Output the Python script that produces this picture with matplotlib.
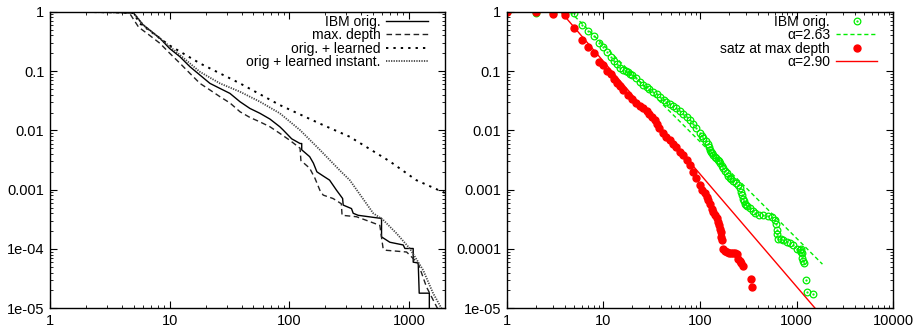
import matplotlib
matplotlib.use('Agg')
import matplotlib.pyplot as plt
from matplotlib.lines import Line2D
from matplotlib.legend_handler import HandlerTuple
from matplotlib.ticker import FixedLocator, LogLocator, NullFormatter
import numpy as np

plt.rcParams['font.family'] = ['Liberation Sans', 'DejaVu Sans']
plt.rcParams['font.size'] = 10

# left panel: cumulative distributions
ibm_x = [1, 2, 3, 4, 5, 6, 8.3, 10, 12.2, 14.8, 17.9, 21.7, 26.3, 31.9, 38.7, 46.9, 56.8, 68.9, 83.3,
         89, 104.7, 123, 127, 127, 148, 159, 170, 192, 217, 248, 279, 282, 331, 342, 376, 571, 590,
         590, 692, 895, 925, 1085, 1085, 1195, 1218, 1480, 1480]
ibm_y = [1.0, 0.99, 0.98, 0.97, 0.95, 0.6, 0.356, 0.24, 0.174, 0.118, 0.0857, 0.062, 0.051, 0.042,
         0.0304, 0.0234, 0.0194, 0.0155, 0.0115, 0.0101, 0.0072, 0.006, 0.006, 0.0047, 0.0036, 0.0028,
         0.002, 0.0017, 0.00145, 0.00098, 0.00071, 0.00055, 0.00048, 0.0004, 0.00037, 0.00033, 0.00033,
         0.00016, 0.00013, 0.000117, 0.000102, 0.000102, 0.00006, 0.000058, 0.000018, 0.000018, 0.000005]

depth_x = [1, 2, 3, 4, 4.6, 5.5, 6.8, 8.3, 10, 12.2, 14.8, 17.9, 21.7, 26.3, 31.9, 38.7, 46.9, 56.8,
           68.9, 83.3, 101, 123, 125, 148, 164, 180, 192, 232, 272, 276, 364, 470, 571, 608, 648, 955,
           1195, 1400, 1700, 1900]
depth_y = [1.0, 0.99, 0.98, 0.97, 0.96, 0.55, 0.40, 0.293, 0.2, 0.135, 0.091, 0.062, 0.048, 0.037,
           0.029, 0.0206, 0.0165, 0.0139, 0.0115, 0.0089, 0.0068, 0.005, 0.0031, 0.0023, 0.00155,
           0.00098, 0.00081, 0.00071, 0.00058, 0.00037, 0.00035, 0.00029, 0.00025, 0.000102, 0.000095,
           0.000089, 0.000057, 0.000023, 0.0000107, 0.000007]

learned_x = [1, 2, 3, 4, 5, 5.6, 8.3, 10, 18, 38.7, 83.3, 180, 320, 692, 1150, 2000]
learned_y = [1.0, 0.99, 0.98, 0.97, 0.95, 0.64, 0.356, 0.27, 0.134, 0.062, 0.0267, 0.013, 0.0078,
             0.003, 0.00145, 0.00088]

instant_x = [1, 2, 3, 4, 5, 6, 8.3, 10, 12.2, 17.9, 26.3, 38.7, 56.8, 83.3, 123, 180, 265, 320, 503,
             608, 788, 1016, 1314, 1590, 1870]
instant_y = [1.0, 0.99, 0.98, 0.97, 0.95, 0.6, 0.356, 0.26, 0.186, 0.097, 0.062, 0.0448, 0.0304,
             0.0194, 0.0101, 0.0047, 0.0021, 0.00145, 0.0004, 0.00031, 0.000183, 0.000102, 0.000044,
             0.000018, 0.00001]

# right panel: IBM orig. and satz at max depth
green_x = [1, 2, 3, 4, 5, 6, 7, 8, 9, 10, 11, 12, 13, 14, 15, 16, 17, 18, 19, 20, 22, 24, 26, 28, 30,
           33, 36, 39, 42, 45, 49, 53, 57, 62, 67, 73, 79, 85, 92, 100, 104, 108, 115, 122, 124, 126,
           130, 134, 138, 143, 148, 152, 157, 161, 168, 175, 182, 189, 197, 205, 212, 220, 235, 249,
           258, 268, 274, 280, 285, 290, 300, 310, 330, 350, 370, 410, 450, 500, 550, 595, 608, 620,
           633, 645, 690, 730, 790, 850, 920, 1000, 1080, 1100, 1115, 1130, 1150, 1170, 1200, 1250,
           1270, 1480]
green_y = [1.0, 0.97, 0.97, 0.97, 0.94, 0.6, 0.47, 0.39, 0.30, 0.25, 0.21, 0.17, 0.149, 0.13, 0.112,
           0.104, 0.1, 0.095, 0.09, 0.086, 0.076, 0.066, 0.059, 0.053, 0.049, 0.045, 0.041, 0.037,
           0.033, 0.030, 0.028, 0.026, 0.0235, 0.0215, 0.019, 0.017, 0.015, 0.013, 0.0108, 0.0089,
           0.008, 0.0073, 0.0066, 0.006, 0.0053, 0.0047, 0.0044, 0.0041, 0.0038, 0.0036, 0.0034,
           0.0032, 0.003, 0.0028, 0.0025, 0.0023, 0.0021, 0.0019, 0.0017, 0.0016, 0.0015, 0.0014,
           0.0013, 0.0012, 0.00105, 0.00092, 0.0008, 0.0007, 0.00064, 0.00058, 0.00056, 0.00054,
           0.0005, 0.00044, 0.0004, 0.00038, 0.00037, 0.00036, 0.00035, 0.00031, 0.00026, 0.00021,
           0.00018, 0.00015, 0.000145, 0.00014, 0.000133, 0.000127, 0.000115, 0.0001, 0.000095,
           0.0001, 0.00009, 0.000085, 0.00007, 0.000062, 0.000058, 0.00003, 0.0000186, 0.0000175]

red_x = [1, 2, 3, 4, 5, 6, 7, 8, 9, 10, 11, 12, 13, 14, 15, 16, 18, 20, 22, 24, 26, 28, 30, 32, 34,
         36, 38, 41, 45, 49, 53, 57, 62, 67, 73, 79, 85, 92, 100, 106, 112, 117, 122, 127, 132, 138,
         143, 149, 155, 158, 161, 164, 167, 171, 175, 182, 189, 200, 210, 220, 230, 240, 249, 260,
         268, 280, 335, 342]
red_y = [1.0, 0.98, 0.91, 0.87, 0.54, 0.34, 0.257, 0.2, 0.143, 0.126, 0.101, 0.09, 0.074, 0.064,
         0.055, 0.047, 0.04, 0.034, 0.029, 0.026, 0.0235, 0.021, 0.019, 0.017, 0.015, 0.0128, 0.0108,
         0.0092, 0.0078, 0.0068, 0.006, 0.0052, 0.0044, 0.0038, 0.0032, 0.0026, 0.002, 0.0016,
         0.0012, 0.001, 0.00087, 0.00076, 0.00067, 0.00057, 0.00048, 0.00042, 0.00037, 0.00033,
         0.00029, 0.00025, 0.00022, 0.00019, 0.00016, 0.00014, 0.0001, 0.000093, 0.00009, 0.000087,
         0.000085, 0.000085, 0.000085, 0.000083, 0.000068, 0.000062, 0.000058, 0.000052, 0.000031,
         0.0000225]

# power law fits y = C * x^-(alpha-1)
fit_alpha = [2.63, 2.90]
fit_logc = [1.07, 1.065]
fit_xrange = [[4.0, 1850], [3.5, 2500]]
fit_labels = ['\u03b1=2.63', '\u03b1=2.90']

left_yticklabels = ['1e-05', '1e-04', '0.001', '0.01', '0.1', '1']
right_yticklabels = ['1e-05', '0.0001', '0.001', '0.01', '0.1', '1']
yticks = [1e-5, 1e-4, 1e-3, 1e-2, 1e-1, 1]

green = '#00ee00'
red = '#ff0000'

fig = plt.figure(figsize=(9.19, 3.34), dpi=100)
ax1 = fig.add_axes([0.0544, 0.0769, 0.4298, 0.888])
ax2 = fig.add_axes([0.5513, 0.0769, 0.4207, 0.888])

ax1.plot(ibm_x, ibm_y, '-', color='k', lw=1.0, label='IBM orig.')
ax1.plot(depth_x, depth_y, color='#222222', lw=1.0, dashes=(4, 2.5), label='max. depth')
ax1.plot(learned_x, learned_y, color='k', lw=1.4, dashes=(1.2, 2.6), label='orig. + learned')
ax1.plot(instant_x, instant_y, color='#444444', lw=1.3, dashes=(0.7, 0.7), label='orig + learned instant.')
ax1.set_xlim(1, 2000)

ax2.plot(green_x, green_y, 'o', ms=4.8, mfc='none', mec=green, mew=0.9)
ax2.plot(green_x, green_y, '.', ms=1.2, color=green)
xx = np.logspace(np.log10(fit_xrange[0][0]), np.log10(fit_xrange[0][1]), 50)
ax2.plot(xx, 10**fit_logc[0] * xx**(-(fit_alpha[0]-1)), color=green, lw=1.0, dashes=(3, 2))
ax2.plot(red_x, red_y, 'o', ms=5, color=red, mec=red)
xx = np.logspace(np.log10(fit_xrange[1][0]), np.log10(fit_xrange[1][1]), 50)
ax2.plot(xx, 10**fit_logc[1] * xx**(-(fit_alpha[1]-1)), color=red, lw=1.0)
ax2.set_xlim(1, 10000)

h_green = (Line2D([], [], ls='none', marker='o', ms=4.8, mfc='none', mec=green, mew=0.9),
           Line2D([], [], ls='none', marker='.', ms=1.2, color=green))
h_gfit = Line2D([], [], color=green, lw=1.0, dashes=(3, 2))
h_red = Line2D([], [], ls='none', marker='o', ms=5, color=red)
h_rfit = Line2D([], [], color=red, lw=1.0)
leg_kw = dict(frameon=False, markerfirst=False, fontsize=10, handlelength=3.0, labelspacing=-0.03,
              borderaxespad=0.1, borderpad=0.1, handletextpad=0.4, loc='upper right')
ax2.legend([h_green, h_gfit, h_red, h_rfit], ['IBM orig.', fit_labels[0], 'satz at max depth', fit_labels[1]],
           handler_map={tuple: HandlerTuple(ndivide=1, pad=0)}, bbox_to_anchor=(0.966, 1.0), **leg_kw)
ax1.legend(bbox_to_anchor=(0.964, 1.0), **leg_kw)

for ax, labs in [(ax1, left_yticklabels), (ax2, right_yticklabels)]:
    ax.set_xscale('log')
    ax.set_yscale('log')
    ax.set_ylim(1e-5, 1)
    ax.yaxis.set_major_locator(FixedLocator(yticks))
    ax.set_yticklabels(labs)
    ax.yaxis.set_minor_locator(LogLocator(base=10, subs=np.arange(2, 10)))
    ax.yaxis.set_minor_formatter(NullFormatter())
    ax.xaxis.set_minor_locator(LogLocator(base=10, subs=np.arange(2, 10)))
    ax.xaxis.set_minor_formatter(NullFormatter())
    ax.xaxis.set_major_formatter(matplotlib.ticker.FuncFormatter(lambda v, p: '%d' % round(v)))
    ax.tick_params(which='both', direction='in', top=True, right=True, labelsize=10.5, pad=4)
    ax.tick_params(which='major', length=5, width=0.8)
    ax.tick_params(which='minor', length=2.5, width=0.6)
    for s in ax.spines.values():
        s.set_linewidth(1.0)

plt.savefig('out.png', dpi=100)
